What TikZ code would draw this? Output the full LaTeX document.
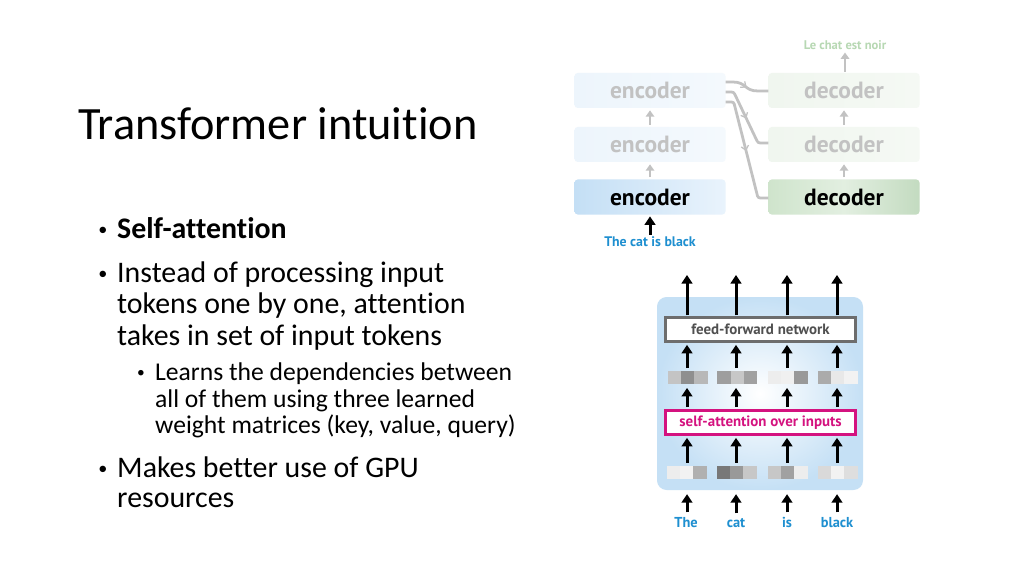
\documentclass[tikz,border=0pt]{standalone}
\usepackage{fontspec}
\setmainfont{Carlito}[Ligatures={NoCommon}]
\newfontfamily\dfont{PT Sans}
\usetikzlibrary{arrows.meta,calc,decorations.markings}
\newcommand\pu{0.9375pt}
\definecolor{fadetxt}{HTML}{C2C2C2}
\definecolor{encfaint}{HTML}{EDF5FC}
\definecolor{encfaintR}{HTML}{F4F9FD}
\definecolor{encL}{HTML}{C4DFF5}
\definecolor{encR}{HTML}{E9F3FC}
\definecolor{decfaint}{HTML}{F0F6EF}
\definecolor{decfaintR}{HTML}{F5F9F4}
\definecolor{decL}{HTML}{CFE4CC}
\definecolor{decR}{HTML}{C3DBC0}
\definecolor{lechat}{HTML}{B7D8B3}
\definecolor{wblue}{HTML}{1E8FD0}
\definecolor{magen}{HTML}{D4127F}
\definecolor{ffgray}{HTML}{6D6D6D}
\definecolor{fftxt}{HTML}{505050}
\definecolor{carr}{HTML}{C2C2C2}
\definecolor{bgout}{HTML}{C5E0F5}
\newcommand\vcells[4]{%
  \fill[black!#2] (#1.north west) rectangle ++(13.33,13);
  \fill[black!#3] ($(#1.north west)+(13.33,0)$) rectangle ++(13.33,13);
  \fill[black!#4] ($(#1.north west)+(26.66,0)$) rectangle ++(13.34,13);}
\begin{document}
\begin{tikzpicture}[x=0.9375pt,y=-0.9375pt,
  lvlone/.style={anchor=base west,inner sep=0,font=\fontsize{28}{34}\selectfont},
  lvltwo/.style={anchor=base west,inner sep=0,font=\fontsize{24}{29}\selectfont},
  bulone/.style={anchor=base,inner sep=0,font=\fontsize{17}{20}\selectfont},
  bultwo/.style={anchor=base,inner sep=0,font=\fontsize{14.5}{17}\selectfont},
  blk/.style={rectangle,rounded corners=3pt,minimum width=151*\pu,minimum height=35*\pu,inner sep=0,font=\dfont\bfseries\fontsize{22}{26}\selectfont},
  encfade/.style={blk,left color=encfaint,right color=encfaintR,text=fadetxt},
  decfade/.style={blk,left color=decfaint,right color=decfaintR,text=fadetxt},
  garr/.style={draw=carr,line width=2.6pt,-{Triangle[width=8pt,length=6pt]}},
  barr/.style={draw=black,line width=2.8pt,-{Triangle[width=10pt,length=8pt]}},
  conn/.style={draw=carr,line width=2.6pt,postaction={decorate},
    decoration={markings,mark=at position 0.5 with {\arrow[carr,line width=1.2pt]{Straight Barb[length=4pt,width=7pt]}}}},
  vec/.style={minimum width=40*\pu,minimum height=13*\pu,inner sep=0},
  layer/.style={rectangle,draw,line width=2.2pt,fill=white,minimum width=190*\pu,minimum height=24*\pu,inner sep=0},
  word/.style={inner sep=0,anchor=base,text=wblue,font=\dfont\bfseries\fontsize{13.5}{16}\selectfont}
]
\useasboundingbox (0,0) rectangle (1024,576);
\fill[white] (0,0) rectangle (1024,576);

% ---------- text ----------
\node[anchor=base west,inner sep=0,font=\fontsize{43.4}{52}\selectfont] (title) at (78,140) {Transformer intuition};
\node[bulone] (b1) at (103,235) {•};
\node[lvlone] (t1) at (117,238) {\bfseries Self-attention};
\node[bulone] (b2) at (103,279) {•};
\node[lvlone] (t2a) at (117,282) {Instead of processing input};
\node[lvlone] (t2b) at (117,313) {tokens one by one, attention};
\node[lvlone] (t2c) at (117,345) {takes in set of input tokens};
\node[bultwo] (b3) at (141,377.5) {•};
\node[lvltwo] (t3a) at (155,380) {Learns the dependencies between};
\node[lvltwo] (t3b) at (155,407) {all of them using three learned};
\node[lvltwo] (t3c) at (155,433) {weight matrices (key, value, query)};
\node[bulone] (b4) at (103,474) {•};
\node[lvlone] (t4a) at (117,477) {Makes better use of GPU};
\node[lvlone] (t4b) at (117,507) {resources};

% ---------- encoder / decoder ----------
\node[blk,left color=encL,right color=encR,text=black] (e1) at (650,197) {encoder};
\node[encfade] (e2) at (650,144.5) {encoder};
\node[encfade] (e3) at (650,90.5) {encoder};
\node[blk,left color=decL,right color=decR,middle color=decL!60!white,text=black] (d1) at (844,197) {decoder};
\node[decfade] (d2) at (844,144.5) {decoder};
\node[decfade] (d3) at (844,90.5) {decoder};

\node[inner sep=0,anchor=base,text=wblue,font=\dfont\bfseries\fontsize{13}{15}\selectfont] (inp) at (650,246) {The cat is black};
\node[inner sep=0,anchor=base,text=lechat,font=\dfont\bfseries\fontsize{11.8}{14}\selectfont] (outp) at (845,50) {Le chat est noir};

\draw[barr,shorten <=1pt,shorten >=1.5pt] (inp.north) -- (e1.south);
\draw[garr,shorten <=2pt,shorten >=2pt] (e1.north) -- (e2.south);
\draw[garr,shorten <=2pt,shorten >=2pt] (e2.north) -- (e3.south);
\draw[garr,shorten <=2pt,shorten >=2pt] (d1.north) -- (d2.south);
\draw[garr,shorten <=2pt,shorten >=2pt] (d2.north) -- (d3.south);
\draw[garr,shorten <=1pt,shorten >=2pt] (d3.north -| outp) -- (outp.south);

\coordinate (s1) at ($(e3.east)+(0,-8.5)$);
\coordinate (s2) at ($(e3.east)+(0,1.5)$);
\coordinate (s3) at ($(e3.east)+(0,11.5)$);
\draw[conn] (s1) -- ++(7,0) .. controls ++(14,0) and (744,91) .. (758,91) -- (d3.west |- 0,91);
\draw[conn,rounded corners=2pt] (s2) -- ++(8,0) -- (758,143) -- (d2.west |- 0,143);
\draw[conn,rounded corners=2pt] (s3) -- ++(8,0) -- (758,198) -- (d1.west |- 0,198);

% ---------- self-attention block ----------
\node[rectangle,rounded corners=9pt,minimum width=206*\pu,minimum height=193*\pu,inner sep=0,
  inner color=white,outer color=bgout] (bg) at (760,393.5) {};

\node[layer,draw=ffgray,text=fftxt,font=\dfont\bfseries\fontsize{14}{16}\selectfont] (ffn) at (760.5,329.5) {feed-forward network};
\node[layer,draw=magen,text=magen,font=\dfont\bfseries\fontsize{14}{16}\selectfont] (sa) at (760.5,422.5) {self-attention over inputs};

\node[vec] (h1) at (688,378) {};
\node[vec] (h2) at (737.5,378) {};
\node[vec] (h3) at (788,378) {};
\node[vec] (h4) at (838,378) {};
\node[vec] (l1) at (687,472.5) {};
\node[vec] (l2) at (737,472.5) {};
\node[vec] (l3) at (788,472.5) {};
\node[vec] (l4) at (838,472.5) {};
\vcells{h1}{23}{44}{28}
\vcells{h2}{38}{22}{37}
\vcells{h3}{7}{6}{40}
\vcells{h4}{33}{9}{5}
\vcells{l1}{7}{5}{31}
\vcells{l2}{53}{40}{22}
\vcells{l3}{22}{37}{7}
\vcells{l4}{15}{5}{13}

\node[word] (w1) at (686,527) {The};
\node[word] (w2) at (736,527) {cat};
\node[word] (w3) at (787,527) {is};
\node[word] (w4) at (837,527) {black};

\foreach \c/\x in {1/687,2/736,3/787,4/837}{
  \coordinate (o\c) at (\x,275);
  \coordinate (a\c) at (\x,0);
  \draw[barr,shorten <=1pt] (ffn.north -| a\c) -- (o\c);
  \draw[barr,shorten <=3pt,shorten >=2pt] (h\c.north -| a\c) -- (ffn.south -| a\c);
  \draw[barr,shorten <=2pt,shorten >=3pt] (sa.north -| a\c) -- (h\c.south -| a\c);
  \draw[barr,shorten <=3pt,shorten >=2pt] (l\c.north -| a\c) -- (sa.south -| a\c);
  \draw[barr,shorten <=4pt,shorten >=14pt] (w\c.north -| a\c) -- (l\c.south -| a\c);
}
\end{tikzpicture}
\end{document}
